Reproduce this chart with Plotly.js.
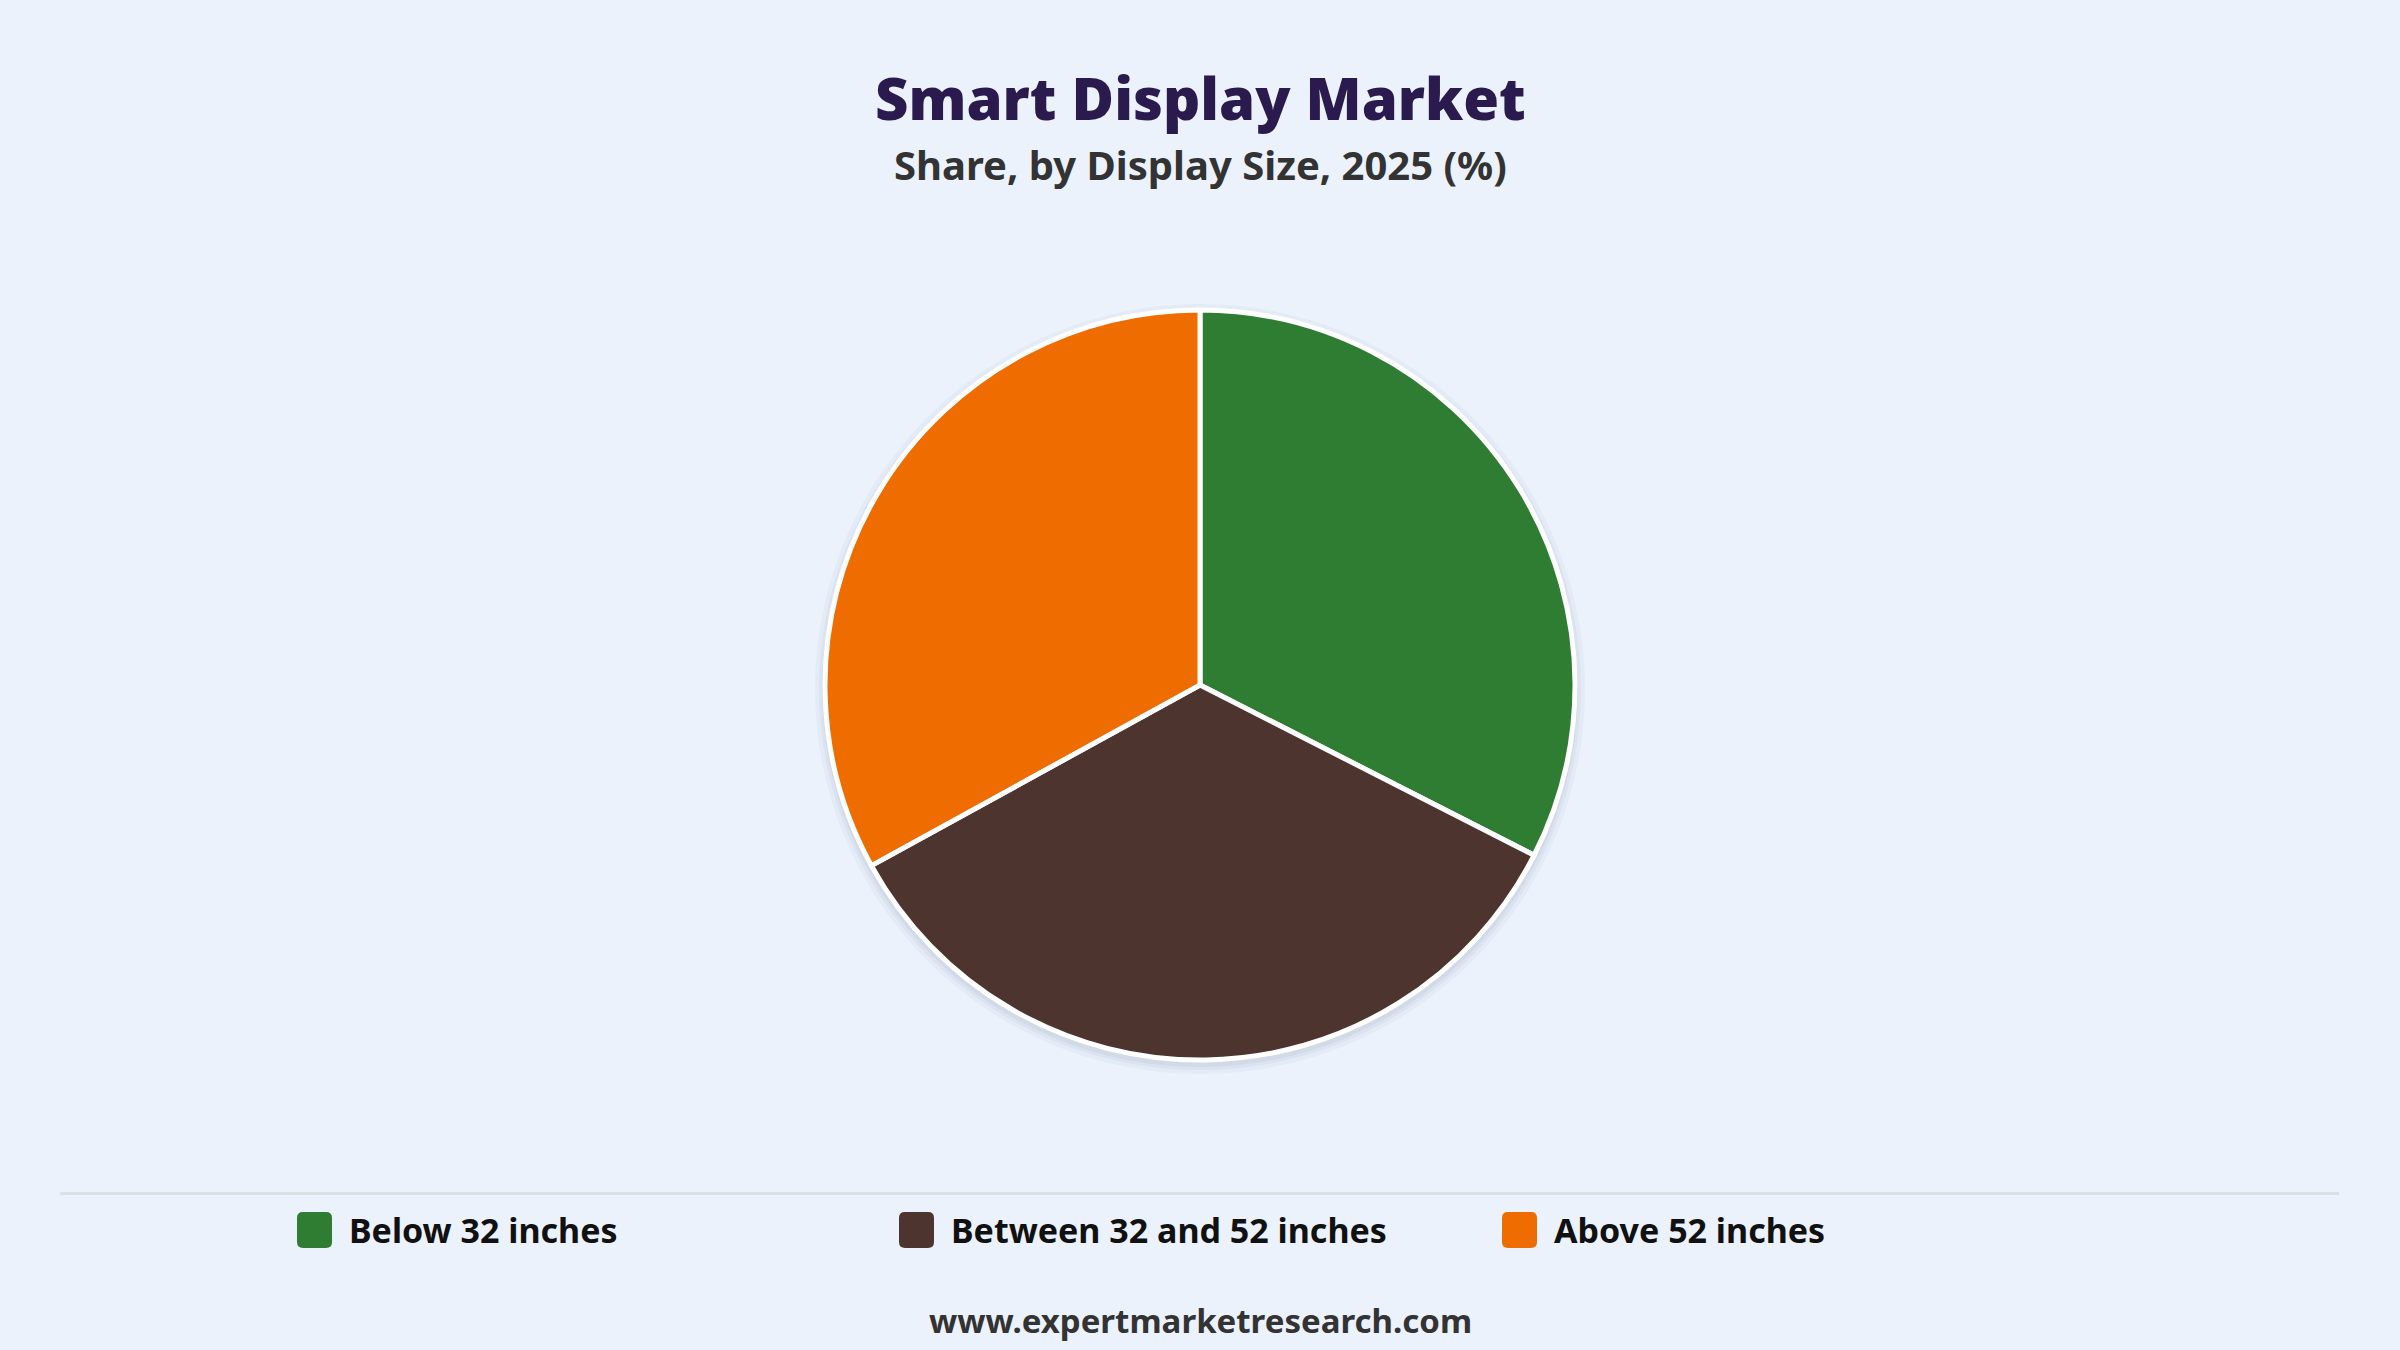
<!DOCTYPE html>
<html>
<head>
<meta charset="utf-8">
<script src="https://cdn.plot.ly/plotly-3.0.1.min.js"></script>
<style>
html,body{margin:0;padding:0;background:#EBF2FC;}
#chart{width:2400px;height:1350px;}
</style>
</head>
<body>
<div id="chart"></div>
<script>
const categories = ["Below 32 inches", "Between 32 and 52 inches", "Above 52 inches"];
const shareValues = [32.5, 34.5, 33.0];
const sliceColors = ["#2E7D32", "#4E342E", "#EF6C00"];

const titleText = "Smart Display Market";
const subtitleText = "Share, by Display Size, 2025 (%)";
const footerText = "www.expertmarketresearch.com";

const W = 2400, H = 1350;
const bg = "#EBF2FC";

const trace = {
  type: "pie",
  labels: categories,
  values: shareValues,
  sort: false,
  direction: "clockwise",
  rotation: 0,
  marker: { colors: sliceColors, line: { color: "#FFFFFF", width: 5 } },
  textinfo: "none",
  hoverinfo: "label+percent",
  showlegend: false,
  domain: { x: [0, 1], y: [1 - 1060 / H, 1 - 310 / H] }
};

const shapes = [];
const annotations = [];

// soft shadow rings behind pie
const cx = 1200, cy = 686, r = 375;
[[10, "rgba(60,80,110,0.04)"], [6, "rgba(60,80,110,0.05)"], [3, "rgba(60,80,110,0.06)"]].forEach(([d, c]) => {
  shapes.push({
    type: "circle", xref: "paper", yref: "paper", layer: "below",
    x0: (cx - r - d) / W, x1: (cx + r + d) / W,
    y0: 1 - (cy + r + d + 3) / H, y1: 1 - (cy - r - d + 3) / H,
    fillcolor: c, line: { width: 0 }
  });
});

// separator line
shapes.push({
  type: "line", xref: "paper", yref: "paper",
  x0: 60 / W, x1: 2339 / W, y0: 1 - 1193.5 / H, y1: 1 - 1193.5 / H,
  line: { color: "#DCDFE4", width: 3 }
});

// rounded rect path in paper coords
function roundRect(px0, py0, px1, py1, rad) {
  const X = v => (v / W).toFixed(6), Y = v => (1 - v / H).toFixed(6);
  return "M" + X(px0 + rad) + "," + Y(py0) +
    " L" + X(px1 - rad) + "," + Y(py0) +
    " Q" + X(px1) + "," + Y(py0) + " " + X(px1) + "," + Y(py0 + rad) +
    " L" + X(px1) + "," + Y(py1 - rad) +
    " Q" + X(px1) + "," + Y(py1) + " " + X(px1 - rad) + "," + Y(py1) +
    " L" + X(px0 + rad) + "," + Y(py1) +
    " Q" + X(px0) + "," + Y(py1) + " " + X(px0) + "," + Y(py1 - rad) +
    " L" + X(px0) + "," + Y(py0 + rad) +
    " Q" + X(px0) + "," + Y(py0) + " " + X(px0 + rad) + "," + Y(py0) + " Z";
}

// custom legend
const legendX = [297, 899, 1502];
const legendY = 1230;
categories.forEach((name, i) => {
  const x0 = legendX[i];
  shapes.push({
    type: "path", xref: "paper", yref: "paper",
    path: roundRect(x0, legendY - 18, x0 + 35, legendY + 18, 6),
    fillcolor: sliceColors[i], line: { width: 0 }
  });
  annotations.push({
    xref: "paper", yref: "paper", x: (x0 + 50) / W, y: 1 - legendY / H,
    xanchor: "left", yanchor: "middle", showarrow: false,
    text: name,
    font: { family: "Noto Sans, Open Sans, sans-serif", size: 34, color: "#111111", weight: 700 }
  });
});

// title and subtitle
annotations.push({
  xref: "paper", yref: "paper", x: 0.5, y: 1 - 98 / H,
  xanchor: "center", yanchor: "middle", showarrow: false,
  text: titleText,
  font: { family: "Noto Sans, Open Sans, sans-serif", size: 58, color: "#2B1A4E", weight: 900 }
});
annotations.push({
  xref: "paper", yref: "paper", x: 0.5, y: 1 - 164 / H,
  xanchor: "center", yanchor: "middle", showarrow: false,
  text: subtitleText,
  font: { family: "Noto Sans, Open Sans, sans-serif", size: 40, color: "#333333", weight: 700 }
});
// footer
annotations.push({
  xref: "paper", yref: "paper", x: 0.5, y: 1 - 1320 / H,
  xanchor: "center", yanchor: "middle", showarrow: false,
  text: footerText,
  font: { family: "Noto Sans, Open Sans, sans-serif", size: 33, color: "#333333", weight: 700 }
});

const layout = {
  width: W, height: H,
  margin: { l: 0, r: 0, t: 0, b: 0 },
  paper_bgcolor: bg, plot_bgcolor: bg,
  showlegend: false,
  shapes: shapes,
  annotations: annotations
};

Plotly.newPlot("chart", [trace], layout, { displayModeBar: false, staticPlot: true });
</script>
</body>
</html>
